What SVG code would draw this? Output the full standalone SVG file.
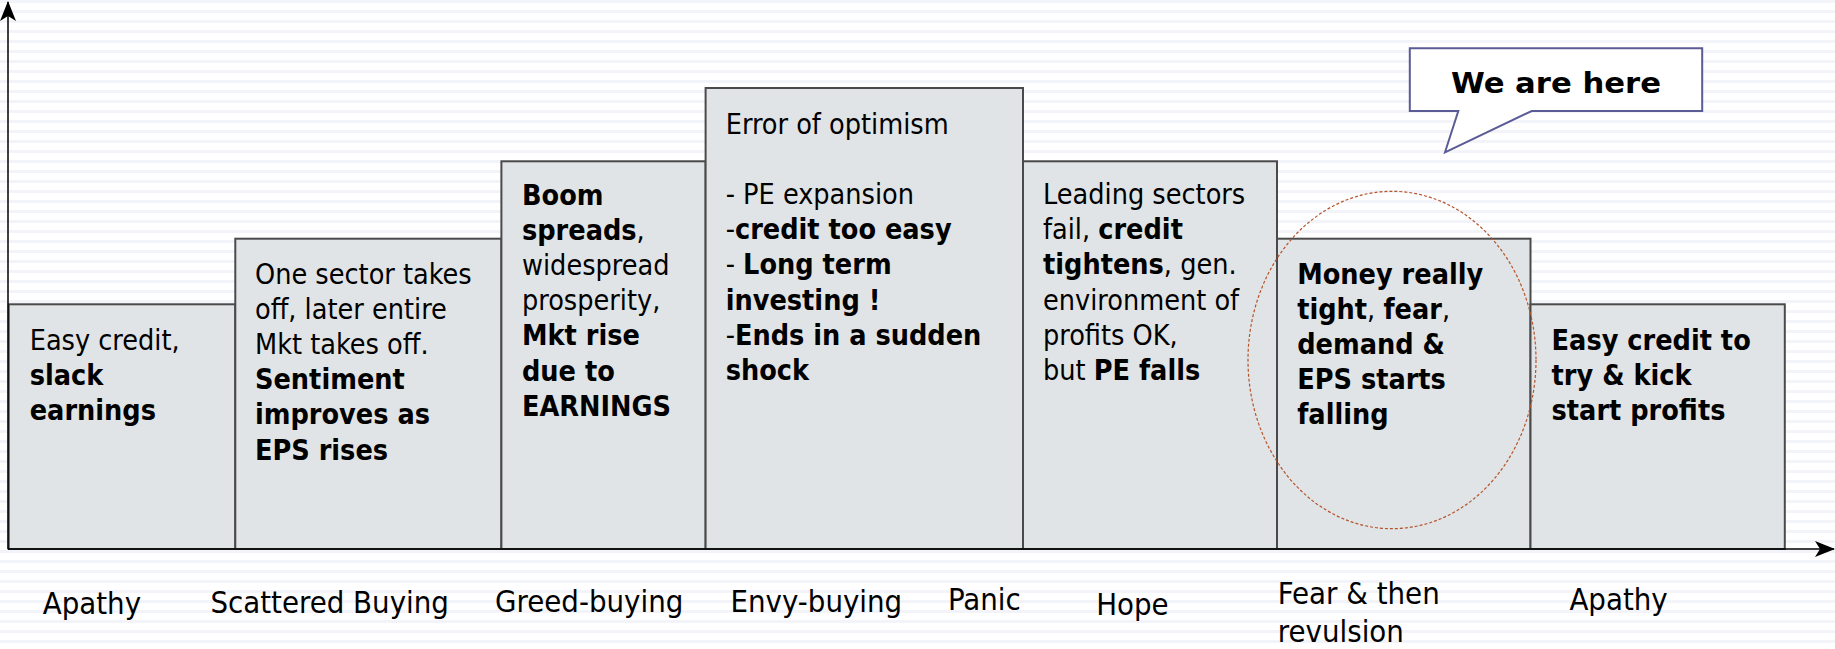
<svg xmlns="http://www.w3.org/2000/svg" width="1835" height="649" viewBox="0 0 1835 649">
<style>
.t{font-family:"DejaVu Sans Condensed","DejaVu Sans",sans-serif;font-stretch:condensed;font-size:28.5px;fill:#000}
.b{font-weight:bold}
.l{font-size:30.8px}
.box{fill:#e1e4e6;stroke:#4a4a4a;stroke-width:2}
.ax{stroke:#000;stroke-width:1.5;fill:none}
</style>
<defs>
<pattern id="stripes" width="10" height="10" patternUnits="userSpaceOnUse">
<rect width="10" height="10" fill="#ffffff"/>
<rect y="0" width="10" height="3" fill="#f3f3fa"/>
</pattern>
<marker id="arr" viewBox="0 0 20 16" refX="19" refY="8" markerWidth="20" markerHeight="16" markerUnits="userSpaceOnUse" orient="auto">
<path d="M0,0 L20,8 L0,16 L5,8 Z" fill="#000"/>
</marker>
</defs>
<rect width="1835" height="649" fill="url(#stripes)"/>
<g id="box1"><rect class="box" x="8.7" y="304.3" width="226.6" height="244.7"/>
<text class="t"><tspan x="29.7" y="350">Easy credit,</tspan><tspan class="b" x="29.7" y="385.2">slack</tspan><tspan class="b" x="29.7" y="420.4">earnings</tspan></text></g>
<g id="box2"><rect class="box" x="235.3" y="238.7" width="266.1" height="310.3"/>
<text class="t"><tspan x="255" y="283.5">One sector takes</tspan><tspan x="255" y="318.7">off, later entire</tspan><tspan x="255" y="353.9">Mkt takes off.</tspan><tspan class="b" x="255" y="389.1">Sentiment</tspan><tspan class="b" x="255" y="424.3">improves as</tspan><tspan class="b" x="255" y="459.5">EPS rises</tspan></text></g>
<g id="box3"><rect class="box" x="501.4" y="161.3" width="204.2" height="387.7"/>
<text class="t"><tspan class="b" x="522" y="204.5">Boom</tspan><tspan x="522" y="239.7"><tspan class="b">spreads</tspan>,</tspan><tspan x="522" y="274.9">widespread</tspan><tspan x="522" y="310.1">prosperity,</tspan><tspan class="b" x="522" y="345.3">Mkt rise</tspan><tspan class="b" x="522" y="380.5">due to</tspan><tspan class="b" x="522" y="415.7">EARNINGS</tspan></text></g>
<g id="box4"><rect class="box" x="705.6" y="88" width="317.4" height="461"/>
<text class="t"><tspan x="725.7" y="133.5">Error of optimism</tspan><tspan x="725.7" y="204">- PE expansion</tspan><tspan x="725.7" y="239.2">-<tspan class="b">credit too easy</tspan></tspan><tspan x="725.7" y="274.4">- <tspan class="b">Long term</tspan></tspan><tspan class="b" x="725.7" y="309.6">investing !</tspan><tspan x="725.7" y="344.8">-<tspan class="b">Ends in a sudden</tspan></tspan><tspan class="b" x="725.7" y="380">shock</tspan></text></g>
<g id="box5"><rect class="box" x="1023" y="161.3" width="254" height="387.7"/>
<text class="t"><tspan x="1043" y="204">Leading sectors</tspan><tspan x="1043" y="239.2">fail, <tspan class="b">credit</tspan></tspan><tspan x="1043" y="274.4"><tspan class="b">tightens</tspan>, gen.</tspan><tspan x="1043" y="309.6">environment of</tspan><tspan x="1043" y="344.8">profits OK,</tspan><tspan x="1043" y="380">but <tspan class="b">PE falls</tspan></tspan></text></g>
<g id="box6"><rect class="box" x="1277" y="238.7" width="253.5" height="310.3"/>
<text class="t"><tspan class="b" x="1297.2" y="283.5">Money really</tspan><tspan x="1297.2" y="318.7"><tspan class="b">tight</tspan>, <tspan class="b">fear</tspan>,</tspan><tspan class="b" x="1297.2" y="353.9">demand &amp;</tspan><tspan class="b" x="1297.2" y="389.1">EPS starts</tspan><tspan class="b" x="1297.2" y="424.3">falling</tspan></text></g>
<g id="box7"><rect class="box" x="1530.5" y="304.3" width="254.3" height="244.7"/>
<text class="t b"><tspan x="1551.6" y="350">Easy credit to</tspan><tspan x="1551.6" y="385.2">try &amp; kick</tspan><tspan x="1551.6" y="420.4">start profits</tspan></text></g>
<g id="highlight"><ellipse cx="1392" cy="360" rx="144" ry="168.7" fill="none" stroke="#b5542a" stroke-width="1.2" stroke-dasharray="3,2"/></g>
<g id="callout"><path d="M1409.8,48.3 H1702.2 V111 H1531.7 L1445,152.3 L1458.3,111 H1409.8 Z" fill="#ffffff" stroke="#5b5b95" stroke-width="2"/>
<text class="t b" x="1451" y="93" font-size="36" textLength="210" lengthAdjust="spacingAndGlyphs">We are here</text></g>
<g id="connectors">
<line class="ax" x1="8" y1="549" x2="8" y2="2" marker-end="url(#arr)"/>
<line class="ax" x1="8" y1="549" x2="1834" y2="549" marker-end="url(#arr)"/>
</g>
<g id="labels">
<text class="t l" x="42.7" y="614">Apathy</text>
<text class="t l" x="210.4" y="613">Scattered Buying</text>
<text class="t l" x="495" y="612">Greed-buying</text>
<text class="t l" x="730.5" y="611.5">Envy-buying</text>
<text class="t l" x="948" y="610">Panic</text>
<text class="t l" x="1096.2" y="614.5">Hope</text>
<text class="t l"><tspan x="1277.8" y="604">Fear &amp; then</tspan><tspan x="1277.8" y="641.5">revulsion</tspan></text>
<text class="t l" x="1569.4" y="610">Apathy</text>
</g>
</svg>
